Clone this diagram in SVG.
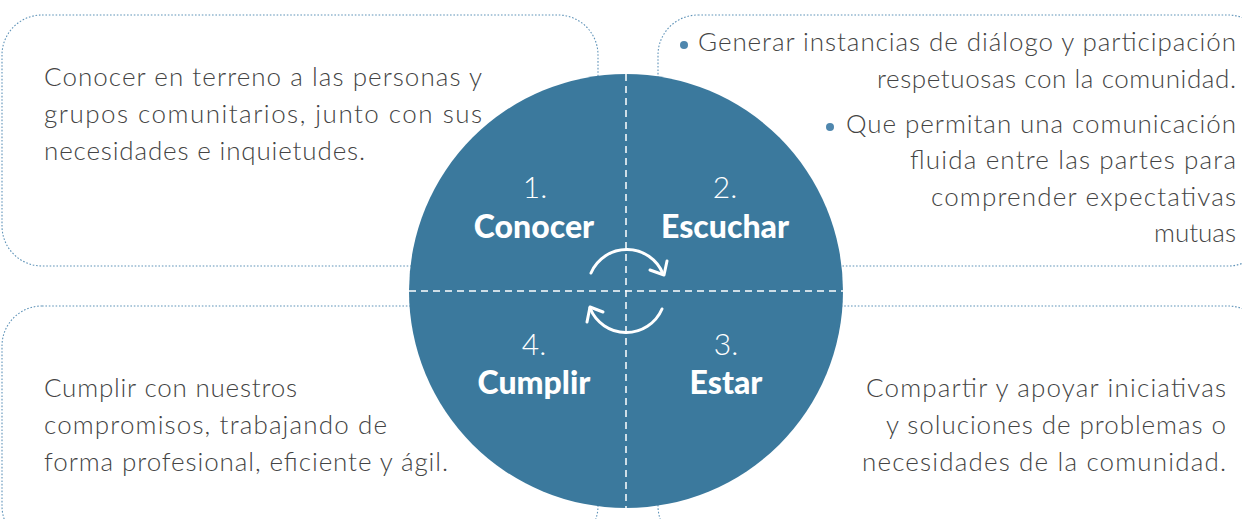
<svg xmlns="http://www.w3.org/2000/svg" width="1242" height="519" viewBox="0 0 1242 519">
<style>
.box{fill:none;stroke:#5f93b8;stroke-width:1.1;stroke-dasharray:1.6 1.8}
.body{font-family:Lato,"Noto Sans",sans-serif;font-weight:300;font-size:26px;fill:#444}
.num{font-family:Lato,"Noto Sans",sans-serif;font-weight:300;font-size:30px;fill:#fff;text-anchor:middle}
.lbl{font-family:Lato,"Noto Sans",sans-serif;font-weight:900;font-size:32px;fill:#fff;text-anchor:middle}
.bul{fill:#4f87ae}
.div{stroke:#fff;stroke-width:1.5;stroke-dasharray:7 5;fill:none}
.cyc{stroke:#fff;stroke-width:3;fill:none;stroke-linecap:round;stroke-linejoin:round}
</style>
<rect width="1242" height="519" fill="#fff"/>
<g id="box-conocer">
<rect class="box" x="2" y="15" width="596" height="251" rx="40"/>
<text class="body" x="44" y="86" textLength="438">Conocer en terreno a las personas y</text>
<text class="body" x="44" y="123" textLength="438">grupos comunitarios, junto con sus</text>
<text class="body" x="44" y="160" textLength="321">necesidades e inquietudes.</text>
</g>
<g id="box-escuchar">
<rect class="box" x="658" y="15" width="610" height="251" rx="40"/>
<circle class="bul" cx="684" cy="45" r="4"/>
<text class="body" x="698" y="51" textLength="538">Generar instancias de diálogo y participación</text>
<text class="body" x="877" y="88" textLength="359">respetuosas con la comunidad.</text>
<circle class="bul" cx="830" cy="127" r="4"/>
<text class="body" x="846" y="133" textLength="390">Que permitan una comunicación</text>
<text class="body" x="910" y="169" textLength="326">fluida entre las partes para</text>
<text class="body" x="931" y="206" textLength="305">comprender expectativas</text>
<text class="body" x="1236" y="242" text-anchor="end">mutuas</text>
</g>
<g id="box-cumplir">
<rect class="box" x="2" y="306" width="596" height="240" rx="40"/>
<text class="body" x="44" y="397" textLength="253">Cumplir con nuestros</text>
<text class="body" x="44" y="434" textLength="343">compromisos, trabajando de</text>
<text class="body" x="44" y="471" textLength="404">forma profesional, eficiente y ágil.</text>
</g>
<g id="box-estar">
<rect class="box" x="658" y="306" width="610" height="240" rx="40"/>
<text class="body" x="866" y="397" textLength="360">Compartir y apoyar iniciativas</text>
<text class="body" x="886" y="434" textLength="340">y soluciones de problemas o</text>
<text class="body" x="862" y="471" textLength="364">necesidades de la comunidad.</text>
</g>
<g id="circle">
<circle cx="626" cy="291" r="217" fill="#3b799d"/>
<line class="div" x1="626" y1="74" x2="626" y2="508"/>
<line class="div" x1="409" y1="291" x2="843" y2="291"/>
</g>
<g id="q1"><text class="num" x="535" y="198">1.</text><text class="lbl" x="534" y="238">Conocer</text></g>
<g id="q2"><text class="num" x="725" y="198">2.</text><text class="lbl" x="725" y="238">Escuchar</text></g>
<g id="q4"><text class="num" x="534" y="355">4.</text><text class="lbl" x="534" y="394">Cumplir</text></g>
<g id="q3"><text class="num" x="726" y="355">3.</text><text class="lbl" x="726" y="394">Estar</text></g>
<g id="connectors">
<path class="cyc" d="M591 273 A39 39 0 0 1 663 274"/>
<path class="cyc" d="M650 270 L664 275 L667 261"/>
<path class="cyc" d="M662 309 A39 39 0 0 1 590 308"/>
<path class="cyc" d="M587 322 L590 307 L603 312"/>
</g>
</svg>
